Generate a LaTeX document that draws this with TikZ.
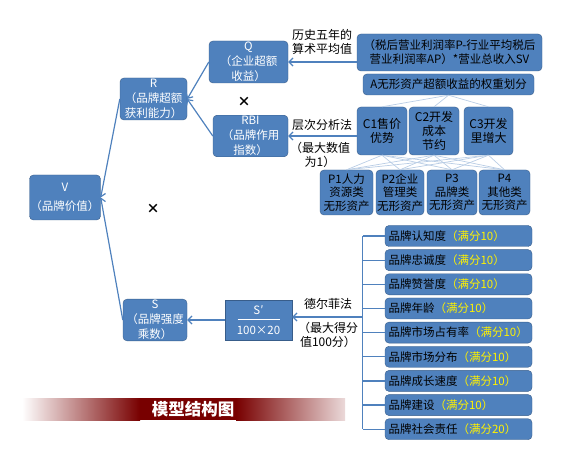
\documentclass[tikz,border=0pt]{standalone}
\usepackage{fontspec}
\setmainfont{Noto Sans CJK SC}
\usetikzlibrary{positioning, calc, arrows.meta}
\definecolor{boxblue}{HTML}{4F81BD}
\definecolor{boxedge}{HTML}{385D8A}
\definecolor{palelink}{HTML}{B9CDE5}
\definecolor{bannerred}{HTML}{780000}
\tikzset{block/.style={draw=boxedge,fill=boxblue,rounded corners=4pt,text=white,
      align=center,inner sep=1pt,font=\fontsize{11.5}{15}\selectfont},
    dark block/.style={block,text=black,font=\fontsize{11.5}{13.5}\selectfont},
    item/.style={block,text=black,align=left,text width=140pt,inner xsep=3.5pt,
      minimum height=21pt,font=\fontsize{11.5}{13}\selectfont},
    link/.style={draw=boxblue,line width=1.2pt},
    arrow/.style={link,-{Straight Barb[length=4pt,width=8pt]}},
    pale link/.style={draw=palelink,line width=0.7pt},
    label/.style={align=center,font=\fontsize{12}{14}\selectfont},
    times/.style={font=\bfseries\fontsize{13}{13}\selectfont}}

\begin{document}
\begin{tikzpicture}[x=1pt,y=-1pt]

  \useasboundingbox (0,0) rectangle (570,470);

  % Main tree of the model

  \node[block,minimum width=70pt,minimum height=45pt] (V) at (65,197.5) {V\\[4pt]（品牌价值）};
  \node[block,minimum width=67pt,minimum height=42pt] (R) at (153.5,99) {R\\（品牌超额\\获利能力）};
  \node[block,minimum width=79pt,minimum height=42pt] (Q) at (248.5,62) {Q\\（企业超额\\收益）};
  \node[block,minimum width=75pt,minimum height=40pt] (RBI) at (250.5,136) {RBI\\（品牌作用\\指数）};
  \node[block,minimum width=64pt,minimum height=41pt] (S) at (155,320) {S\\（品牌强度\\乘数）};
  \node[block,rounded corners=0pt,minimum width=67pt,minimum height=40pt,
    font=\fontsize{11.5}{20}\selectfont] (Sp) at (258.5,320) {S′\\100×20};
  \draw[white,line width=0.8pt] ($(Sp.center)+(-21,-1)$) -- ($(Sp.center)+(21,-1)$);

  \node[times] (x1) at (244,102) {×};
  \node[times] (x2) at (153,209) {×};

  \draw[arrow] (R.west) -- (V.east);
  \draw[arrow] (S.west) -- (V.east);
  \draw[arrow] (Q.west) -- (R.east);
  \draw[arrow] (RBI.west) -- (R.east);
  \draw[arrow] (Sp.west) -- (S.east);

  % Excess earnings

  \node[dark block,minimum width=185pt,minimum height=37pt,
    font=\fontsize{11.5}{14}\selectfont] (F) at (449.5,52.5)
    {（税后营业利润率P-行业平均税后\\营业利润率AP）*营业总收入SV};
  \node[label] (hist) at (322,42) {历史五年的\\算术平均值};
  \draw[arrow] (F.west |- Q.east) -- (Q.east);

  % Analytic hierarchy

  \node[dark block,minimum width=171pt,minimum height=21pt] (A) at (448.5,84.5) {A无形资产超额收益的权重划分};

  \foreach \pos/\name/\bw/\txt in {{(382,131)/C1/50/C1售价\\优势}, {(434,131)/C2/50/C2开发\\成本\\节约},
                                   {(488.5,131)/C3/49/C3开发\\里增大}}
    \node[dark block,minimum width=\bw pt,minimum height=48pt,
      font=\fontsize{12}{14}\selectfont] (\name) at \pos {\txt};

  \foreach \pos/\name/\bw/\txt in {{(346.5,192.5)/P1/53/P1人力\\资源类\\无形资产},
                                   {(400,192.5)/P2/48/P2企业\\管理类\\无形资产},
                                   {(452,192.5)/P3/50/P3\\品牌类\\无形资产},
                                   {(504.5,192.5)/P4/51/P4\\其他类\\无形资产}}
    \node[dark block,minimum width=\bw pt,minimum height=45pt,inner sep=0pt] (\name) at \pos {\txt};

  \foreach \c in {C1,C2,C3} {
    \draw[pale link] (A.south) -- (\c.north);
    \foreach \p in {P1,P2,P3,P4}
      \draw[pale link] (\c.south) -- (\p.north);
  }

  \node[label] (ahp) at (322,125) {层次分析法};
  \node[label] (ahpmax) at (320,155) {（最大数值\\为1）};
  \draw[arrow] (C1.west |- RBI.east) -- (RBI.east);

  % Brand strength factors

  \foreach \name/\score [count=\i] in {品牌认知度/10, 品牌忠诚度/10, 品牌赞誉度/10, 品牌年龄/10,
                                       品牌市场占有率/10, 品牌市场分布/10, 品牌成长速度/10,
                                       品牌建设/10, 品牌社会责任/20}
  {
    \node[item] (s\i) at (458.5,{236+24.15*(\i-1)}) {\name\textcolor{yellow}{（满分\score）}};
    \draw[link] ($(s\i.west)+(-22,0)$) -- (s\i.west);
  }
  \draw[link] ($(s1.west)+(-22,0)$) -- ($(s9.west)+(-22,0)$);
  \coordinate (bmid) at ($(s1.west)+(-22,81)$);
  \draw[arrow] (bmid) -- (bmid -| Sp.east);

  \node[label] (delphi) at (328,304) {德尔菲法};
  \node[label] (delphimax) at (328,335) {（最大得分\\值100分）};

  % Title banner

  \shade[left color=white,right color=bannerred] (22,398) rectangle (140,420);
  \fill[bannerred] (140,398) rectangle (236,420);
  \shade[left color=bannerred,right color=bannerred!15] (236,398) rectangle (345,420);
  \node[text=white,font=\bfseries\fontsize{16.5}{16.5}\selectfont] (title) at (193,409) {模型结构图};

\end{tikzpicture}
\end{document}
